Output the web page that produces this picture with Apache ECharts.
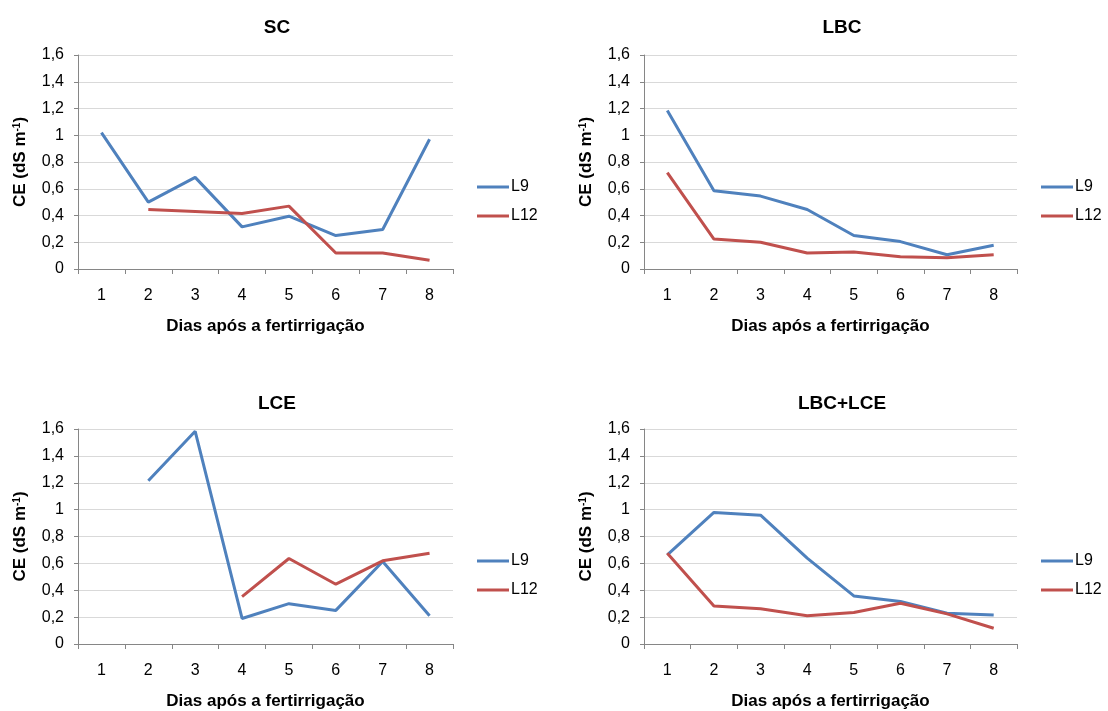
<!DOCTYPE html>
<html>
<head>
<meta charset="utf-8">
<title>CE - Dias após a fertirrigação</title>
<script src="https://cdn.jsdelivr.net/npm/echarts@6/dist/echarts.min.js"></script>
<style>
	html, body { margin: 0; padding: 0; background: #fff; }
	#main { width: 1108px; height: 711px; }
</style>
</head>
<body>
<div id="main"></div>
<script>
// dados
var dias = ['1', '2', '3', '4', '5', '6', '7', '8'];
var nomes = ['L9', 'L12'];
var titulos = ['SC', 'LBC', 'LCE', 'LBC+LCE'];

var scL9 = [1.02, 0.50, 0.685, 0.315, 0.395, 0.25, 0.295, 0.97];
var scL12 = [null, 0.445, 0.43, 0.415, 0.47, 0.12, 0.12, 0.065];
var lbcL9 = [1.185, 0.585, 0.545, 0.445, 0.25, 0.205, 0.107, 0.177];
var lbcL12 = [0.72, 0.224, 0.2, 0.12, 0.127, 0.092, 0.085, 0.107];
var lceL9 = [null, 1.215, 1.583, 0.19, 0.30, 0.25, 0.614, 0.21];
var lceL12 = [null, null, null, 0.353, 0.636, 0.445, 0.619, 0.676];
var mixL9 = [0.663, 0.979, 0.959, 0.639, 0.358, 0.316, 0.229, 0.216];
var mixL12 = [0.676, 0.283, 0.263, 0.211, 0.234, 0.303, 0.224, 0.117];

var yMin = 0, yMax = 1.6, yStep = 0.2;

var valores = [[scL9, scL12], [lbcL9, lbcL12], [lceL9, lceL12], [mixL9, mixL12]];
var cores = ['#4F81BD', '#C0504D'];

// posição de cada painel
var paineis = [
	{ left: 78, top: 55, width: 375, height: 214, titleX: 272, titleY: 13, legX: 472, legY: 173 },
	{ left: 644, top: 55, width: 373, height: 214, titleX: 837, titleY: 13, legX: 1036, legY: 173 },
	{ left: 78, top: 429, width: 375, height: 215, titleX: 272, titleY: 389, legX: 472, legY: 547 },
	{ left: 644, top: 429, width: 373, height: 215, titleX: 837, titleY: 389, legX: 1036, legY: 547 }
];

var fonte = 'Liberation Sans, Arial, sans-serif';
var title = [], grid = [], xAxis = [], yAxis = [], legend = [], series = [];

paineis.forEach(function (p, i) {
	title.push({
		text: titulos[i],
		left: p.titleX,
		top: p.titleY,
		textAlign: 'center',
		textStyle: { fontFamily: fonte, fontSize: 19, fontWeight: 'bold', color: '#000' }
	});
	grid.push({ left: p.left, top: p.top, width: p.width, height: p.height });
	xAxis.push({
		type: 'category',
		gridIndex: i,
		data: dias,
		boundaryGap: true,
		name: 'Dias após a fertirrigação',
		nameLocation: 'middle',
		nameGap: 49,
		nameTextStyle: { fontFamily: fonte, fontSize: 17, fontWeight: 'bold', color: '#000' },
		axisLine: { lineStyle: { color: '#868686', width: 1 } },
		axisTick: { show: true, length: 5, lineStyle: { color: '#868686' } },
		axisLabel: { fontFamily: fonte, fontSize: 16, color: '#000', margin: 19 },
		splitLine: { show: false }
	});
	yAxis.push({
		type: 'value',
		gridIndex: i,
		min: yMin,
		max: yMax,
		interval: yStep,
		name: 'CE (dS m{sup|-1})',
		nameLocation: 'middle',
		nameGap: 49,
		nameTextStyle: {
			fontFamily: fonte, fontSize: 17, fontWeight: 'bold', color: '#000',
			rich: { sup: { fontFamily: fonte, fontSize: 10, fontWeight: 'bold', color: '#000', verticalAlign: 'top' } }
		},
		axisLine: { show: true, lineStyle: { color: '#868686', width: 1 } },
		axisTick: { show: true, length: 4, lineStyle: { color: '#868686' } },
		axisLabel: {
			fontFamily: fonte, fontSize: 16, color: '#000', margin: 14,
			formatter: function (v) { return String(Math.round(v * 10) / 10).replace('.', ','); }
		},
		splitLine: { lineStyle: { color: '#D9D9D9', width: 1 } }
	});
	legend.push({
		data: nomes,
		orient: 'vertical',
		left: p.legX,
		top: p.legY,
		icon: 'rect',
		itemWidth: 32,
		itemHeight: 3,
		itemGap: 11,
		selectedMode: false,
		textStyle: { fontFamily: fonte, fontSize: 16, lineHeight: 18, color: '#000', padding: [0, 0, 0, -3] }
	});
	nomes.forEach(function (n, k) {
		series.push({
			name: n,
			type: 'line',
			xAxisIndex: i,
			yAxisIndex: i,
			data: valores[i][k],
			symbol: 'none',
			smooth: false,
			lineStyle: { color: cores[k], width: 3 },
			itemStyle: { color: cores[k] }
		});
	});
});

var myChart = echarts.init(document.getElementById('main'));
myChart.setOption({
	animation: false,
	backgroundColor: '#fff',
	title: title,
	grid: grid,
	xAxis: xAxis,
	yAxis: yAxis,
	legend: legend,
	series: series
});
</script>
</body>
</html>
